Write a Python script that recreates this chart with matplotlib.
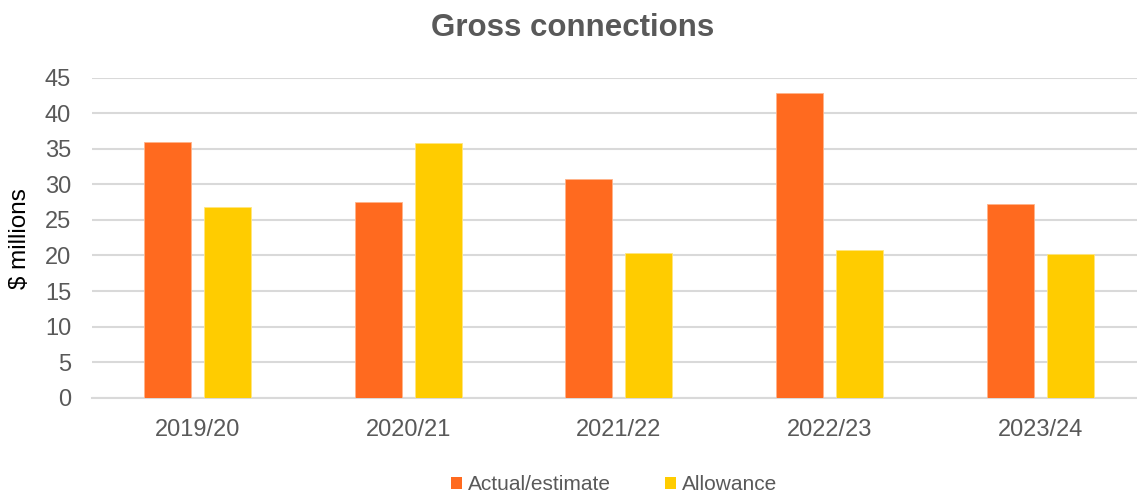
import matplotlib
matplotlib.use("Agg")
import matplotlib.pyplot as plt
import numpy as np
from matplotlib.patches import Patch

categories = ["2019/20", "2020/21", "2021/22", "2022/23", "2023/24"]
actual = [35.9, 27.5, 30.8, 42.8, 27.2]
allowance = [26.8, 35.8, 20.4, 20.7, 20.2]
series_names = ["Actual/estimate", "Allowance"]
yticks = [0, 5, 10, 15, 20, 25, 30, 35, 40, 45]

c_act = "#FF6A1F"
c_all = "#FFCC00"
grey = "#595959"

plt.rcParams['font.family'] = ['Liberation Sans', 'DejaVu Sans']

W, H = 1137, 497
fig = plt.figure(figsize=(W/100, H/100), dpi=100)
ax = fig.add_axes([92/W, 1-397.7/H, (W-92)/W, (397.7-77.7)/H])

x = np.arange(len(categories))
bw = 0.223
off = 0.1425
ax.bar(x - off, actual, bw, color=c_act, edgecolor="#FFB38A", linewidth=0.6, zorder=3)
ax.bar(x + off, allowance, bw, color=c_all, edgecolor="#FFE680", linewidth=0.6, zorder=3)

ax.set_xlim(-0.5, 4.459)
ax.set_ylim(0, 45)
ax.set_yticks(yticks)
ax.set_xticks(x)
ax.set_xticklabels(categories)
ax.yaxis.grid(True, color="#D9D9D9", linewidth=1.5, zorder=0)
ax.set_axisbelow(True)
for s in ["top", "right", "left"]:
    ax.spines[s].set_visible(False)
ax.spines["bottom"].set_color("#D9D9D9")
ax.spines["bottom"].set_linewidth(1.5)
ax.tick_params(axis="both", length=0, labelsize=17, labelcolor=grey)
ax.tick_params(axis="x", pad=15)
ax.tick_params(axis="y", pad=15)

fig.text(572.7/W, 1-28/H, "Gross connections", ha="center", va="center",
         fontsize=22.5, fontweight="bold", color=grey)
fig.text(20/W, 1-239/H, "$ millions", rotation=90, ha="center", va="center",
         fontsize=17.5, color="black")

handles = [Patch(facecolor=c_act, edgecolor="none"), Patch(facecolor=c_all, edgecolor="none")]
fig.legend(handles, series_names, loc="center", bbox_to_anchor=(614/W, 1-485/H),
           ncol=2, frameon=False, fontsize=15, labelcolor=grey,
           handlelength=0.53, handleheight=0.53, handletextpad=0.3, columnspacing=2.6,
           borderpad=0, borderaxespad=0)

fig.savefig("out.png", dpi=100)
